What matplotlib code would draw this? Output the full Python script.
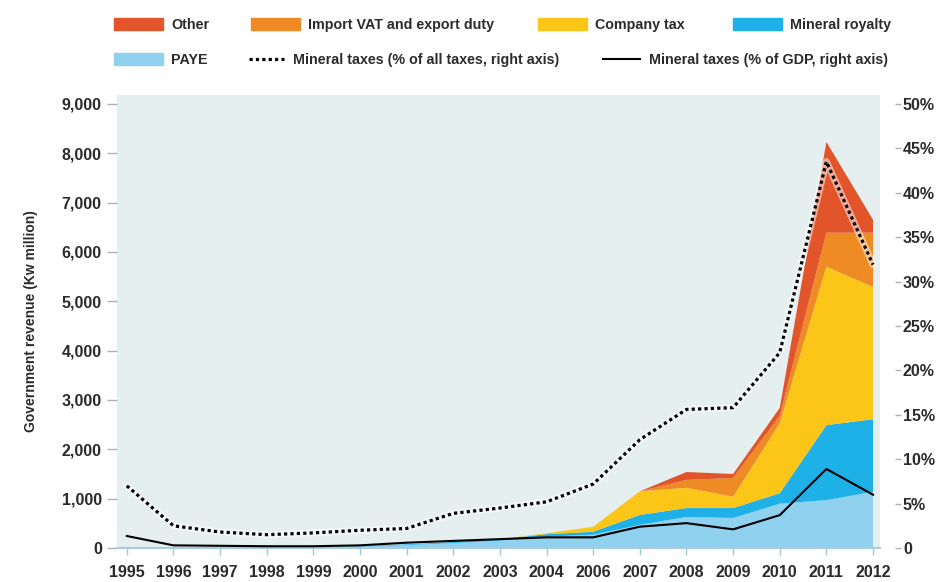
import matplotlib
matplotlib.use('Agg')
import matplotlib.pyplot as plt
from matplotlib.patches import Patch
from matplotlib.lines import Line2D

# Années (2005 absent du graphique d'origine)
years = ['1995', '1996', '1997', '1998', '1999', '2000', '2001', '2002', '2003',
         '2004', '2006', '2007', '2008', '2009', '2010', '2011', '2012']

# Recettes publiques (Kw million), empilées de bas en haut
paye = [0, 0, 0, 0, 10, 30, 60, 100, 150, 230, 270, 470, 630, 610, 900, 970, 1140]
royalty = [0, 0, 0, 0, 5, 10, 15, 20, 30, 50, 60, 200, 180, 200, 210, 1520, 1470]
company = [0, 0, 0, 0, 0, 0, 0, 0, 0, 20, 100, 480, 410, 230, 1420, 3210, 2680]
imports = [0, 0, 0, 0, 0, 0, 0, 0, 0, 0, 0, 0, 160, 380, 150, 690, 1100]
other = [0, 0, 0, 0, 0, 0, 0, 0, 0, 0, 0, 0, 160, 80, 160, 1840, 260]

# Taxes minières (axe de droite, %)
pct_taxes = [7.0, 2.5, 1.8, 1.5, 1.7, 2.0, 2.2, 3.9, 4.5, 5.2, 7.2, 12.2, 15.6, 15.8, 22.0, 43.5, 31.9]
pct_gdp = [1.35, 0.3, 0.25, 0.2, 0.2, 0.3, 0.6, 0.8, 1.0, 1.2, 1.2, 2.4, 2.8, 2.1, 3.7, 8.9, 6.0]

labels = ['PAYE', 'Mineral royalty', 'Company tax', 'Import VAT and export duty', 'Other']
colors = ['#8fd1ef', '#1eb1e7', '#fcc619', '#ee8b24', '#e2552b']

plt.rcParams['font.family'] = ['Liberation Sans', 'DejaVu Sans']
plt.rcParams['font.weight'] = 'bold'
plt.rcParams['axes.labelweight'] = 'bold'
txt = '#2b2b2b'

fig = plt.figure(figsize=(9.37, 5.82), dpi=100)
ax = fig.add_axes([0.1249, 0.0584, 0.8143, 0.7784])
ax.set_facecolor('#e5efef')

x = list(range(len(years)))
ax.stackplot(x, paye, royalty, company, imports, other, colors=colors, linewidth=0)

ax.set_xlim(-0.21, 16.15)
ax.set_ylim(0, 9180)
ax.set_yticks(range(0, 9001, 1000))
ax.set_yticklabels(['{:,}'.format(v) for v in range(0, 9001, 1000)])
ax.set_xticks(x)
ax.set_xticklabels(years)
ax.tick_params(axis='y', length=7, width=1, color='#b0b0b0', pad=4, labelsize=11.5, labelcolor=txt)
ax.tick_params(axis='x', length=5, width=1, color='#9cc7d6', pad=7, labelsize=11.5, labelcolor=txt)
for s in ['top', 'right', 'left']:
    ax.spines[s].set_visible(False)
ax.spines['bottom'].set_color('#a9ccd8')
ax.spines['bottom'].set_linewidth(1.5)
ax.set_ylabel('Government revenue (Kw million)', fontsize=10, color=txt, labelpad=17)

ax2 = ax.twinx()
ax2.plot(x, pct_taxes, color='white', linewidth=5, alpha=0.5, solid_capstyle='round')
ax2.plot(x, pct_taxes, color='black', linewidth=2.3, dashes=(1, 1.0))
ax2.plot(x, pct_gdp, color='black', linewidth=1.5)
ax2.set_ylim(0, 51)
ax2.set_yticks(range(0, 51, 5))
ax2.set_yticklabels(['0'] + ['{}%'.format(v) for v in range(5, 51, 5)])
for s in ['top', 'left', 'bottom']:
    ax2.spines[s].set_visible(False)
ax2.spines['right'].set_position(('outward', 11))
ax2.spines['right'].set_visible(False)
ax2.tick_params(axis='y', length=4, width=1, color='#b0b0b0', pad=1.5, labelsize=11.5, labelcolor=txt)

# Légende sur deux lignes
handles = {
    'Other': Patch(color=colors[4]),
    'Import VAT and export duty': Patch(color=colors[3]),
    'Company tax': Patch(color=colors[2]),
    'Mineral royalty': Patch(color=colors[1]),
    'PAYE': Patch(color=colors[0]),
    'Mineral taxes (% of all taxes, right axis)': Line2D([], [], color='black', linewidth=2.3, dashes=(1, 1.0)),
    'Mineral taxes (% of GDP, right axis)': Line2D([], [], color='black', linewidth=1.5),
}
spots = [
    ('Other', 114, 25, 3.4), ('Import VAT and export duty', 251, 25, 3.4),
    ('Company tax', 538, 25, 3.4), ('Mineral royalty', 733, 25, 3.4),
    ('PAYE', 114, 60, 3.4), ('Mineral taxes (% of all taxes, right axis)', 249, 60, 2.45),
    ('Mineral taxes (% of GDP, right axis)', 603, 60, 2.6),
]
for name, px, py, hl in spots:
    leg = fig.legend(handles=[handles[name]], labels=[name], loc='center left',
                     bbox_to_anchor=(px / 937, 1 - py / 582), frameon=False,
                     borderpad=0, borderaxespad=0, handlelength=hl, handleheight=0.85,
                     handletextpad=0.6, fontsize=10.3)
    for t in leg.get_texts():
        t.set_color(txt)

fig.savefig('out.png', dpi=100)
